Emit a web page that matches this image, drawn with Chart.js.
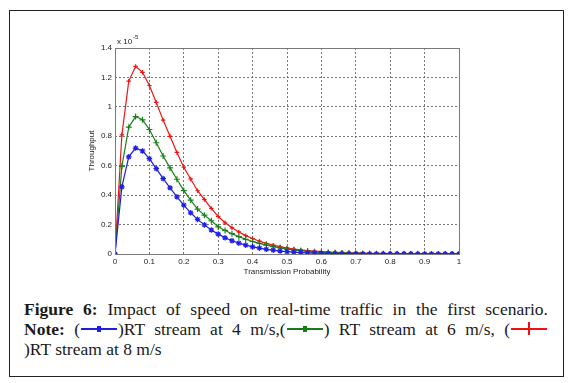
<!DOCTYPE html>
<html>
<head>
<meta charset="utf-8">
<script src="https://cdn.jsdelivr.net/npm/chart.js@4.4.1/dist/chart.umd.min.js"></script>
<style>
  html, body { margin: 0; padding: 0; background: #fff; }
  #wrap { position: relative; width: 573px; height: 383px; overflow: hidden; }
  #frame { position: absolute; left: 9px; top: 10px; width: 553px; height: 365px; border: 1.5px solid #222; }
  #chartBox { position: absolute; left: 0; top: 0; width: 573px; height: 290px; }
  #caption {
    position: absolute; left: 24px; top: 299px; width: 524px;
    font-family: "Liberation Serif", "DejaVu Serif", serif; font-size: 17.5px; line-height: 20px;
    color: #1a1a1a;
  }
  #caption .j { text-align: justify; text-align-last: justify; white-space: nowrap; }
  .sym { display: inline-block; position: relative; width: 38px; height: 10px; vertical-align: 1px; }
  .sym .ln { position: absolute; left: 1px; right: 1px; top: 4px; height: 2px; }
  .sym .mk { position: absolute; left: 17px; top: 2px; width: 4px; height: 6px; }
</style>
</head>
<body>
<div id="wrap">
  <div id="frame"></div>
  <div id="chartBox"><canvas id="chart"></canvas></div>
  <div id="caption">
    <div class="j"><b>Figure 6:</b> Impact of speed on real-time traffic in the first scenario.</div>
    <div class="j"><b>Note:</b> (<span class="sym"><span class="ln" style="background:#1f1fe0"></span><span class="mk" style="background:#1f1fe0"></span></span>)RT stream at 4 m/s,(<span class="sym"><span class="ln" style="background:#1a7a1a"></span><span class="mk" style="background:#1a7a1a"></span></span>) RT stream at 6 m/s, (<span class="sym"><span class="ln" style="background:#ee1111"></span><span class="mk" style="background:#ee1111;left:18px;top:-2px;width:2px;height:13px"></span></span></div>
    <div>)RT stream at 8 m/s</div>
  </div>
</div>
<script>
// transmission probability 0 : 0.02 : 1
const probs = [0, 0.02, 0.04, 0.06, 0.08, 0.1, 0.12, 0.14, 0.16, 0.18, 0.2,
  0.22, 0.24, 0.26, 0.28, 0.3, 0.32, 0.34, 0.36, 0.38, 0.4,
  0.42, 0.44, 0.46, 0.48, 0.5, 0.52, 0.54, 0.56, 0.58, 0.6,
  0.62, 0.64, 0.66, 0.68, 0.7, 0.72, 0.74, 0.76, 0.78, 0.8,
  0.82, 0.84, 0.86, 0.88, 0.9, 0.92, 0.94, 0.96, 0.98, 1]

// throughput (x 10^-5)
const rt4 = [0, 0.456, 0.66, 0.72, 0.70, 0.648, 0.58, 0.512, 0.45, 0.388, 0.332,
  0.28, 0.235, 0.198, 0.163, 0.135, 0.11, 0.09, 0.074, 0.06, 0.049,
  0.04, 0.032, 0.026, 0.02, 0.016, 0.013, 0.01, 0.008, 0.006, 0.005,
  0.004, 0.003, 0.003, 0.002, 0.002, 0.001, 0.001, 0.001, 0.001, 0.001,
  0, 0, 0, 0, 0, 0, 0, 0, 0, 0]
const rt6 = [0, 0.596, 0.862, 0.934, 0.912, 0.846, 0.756, 0.666, 0.585, 0.508, 0.431,
  0.366, 0.305, 0.264, 0.226, 0.185, 0.16, 0.138, 0.118, 0.1, 0.085,
  0.072, 0.06, 0.05, 0.041, 0.033, 0.027, 0.022, 0.018, 0.015, 0.012,
  0.01, 0.008, 0.007, 0.005, 0.004, 0.004, 0.003, 0.002, 0.002, 0.002,
  0.001, 0.001, 0.001, 0.001, 0.001, 0, 0, 0, 0, 0]
const rt8 = [0, 0.81, 1.175, 1.275, 1.235, 1.145, 1.03, 0.91, 0.80, 0.69, 0.59,
  0.51, 0.43, 0.37, 0.31, 0.255, 0.212, 0.178, 0.15, 0.125, 0.105,
  0.087, 0.072, 0.06, 0.05, 0.041, 0.034, 0.028, 0.023, 0.019, 0.016,
  0.013, 0.011, 0.009, 0.008, 0.007, 0.006, 0.005, 0.004, 0.004, 0.003,
  0.003, 0.003, 0.002, 0.002, 0.002, 0.002, 0.002, 0.002, 0.002, 0.002]

const xTicks = [0, 0.1, 0.2, 0.3, 0.4, 0.5, 0.6, 0.7, 0.8, 0.9, 1]
const yTicks = [0, 0.2, 0.4, 0.6, 0.8, 1, 1.2, 1.4]

const tickFont = { family: 'Liberation Sans, Arial, sans-serif', size: 8 }

// MATLAB-like box round the plot area plus the exponent label
const boxPlugin = {
  id: 'box',
  afterDraw(chart) {
    const { ctx, chartArea: a } = chart
    ctx.save()
    ctx.strokeStyle = '#7a7a7a'
    ctx.lineWidth = 1
    ctx.strokeRect(a.left + 0.5, a.top + 0.5, a.right - a.left, a.bottom - a.top)
    ctx.fillStyle = '#222'
    ctx.font = '8px Liberation Sans, Arial, sans-serif'
    ctx.textBaseline = 'alphabetic'
    ctx.fillText('x 10', a.left + 2, a.top - 4)
    ctx.font = '6px Liberation Sans, Arial, sans-serif'
    ctx.fillText('-5', a.left + 18, a.top - 9)
    ctx.restore()
  }
}

function series(values, color, style, radius) {
  return {
    data: probs.map((p, i) => ({ x: p, y: values[i] })),
    borderColor: color,
    backgroundColor: color,
    borderWidth: 1.2,
    pointStyle: style,
    pointRadius: radius,
    pointBorderWidth: 1.2,
    pointBorderColor: color,
    tension: 0
  }
}

new Chart(document.getElementById('chart'), {
  type: 'line',
  data: {
    datasets: [
      series(rt4, '#1f1fe6', 'star', 2.8),
      series(rt6, '#1a7f1a', 'cross', 3),
      series(rt8, '#f01414', 'cross', 2.2)
    ]
  },
  options: {
    responsive: true,
    maintainAspectRatio: false,
    animation: false,
    layout: { padding: { left: 87, right: 114, top: 48, bottom: 13 } },
    plugins: { legend: { display: false }, tooltip: { enabled: false } },
    scales: {
      x: {
        type: 'linear', min: 0, max: 1,
        afterBuildTicks: s => { s.ticks = xTicks.map(v => ({ value: v })) },
        afterFit: s => { s.height = 23 },
        grid: { color: '#555', lineWidth: 0.8, drawTicks: false },
        border: { display: false, dash: [2, 2] },
        ticks: { font: tickFont, color: '#222', padding: 3, maxRotation: 0, callback: v => String(+v.toFixed(1)) },
        title: { display: true, text: 'Transmission Probability', font: tickFont, color: '#222', padding: 0 }
      },
      y: {
        type: 'linear', min: 0, max: 1.4,
        afterBuildTicks: s => { s.ticks = yTicks.map(v => ({ value: v })) },
        afterFit: s => { s.width = 28 },
        grid: { color: '#555', lineWidth: 0.8, drawTicks: false },
        border: { display: false, dash: [2, 2] },
        ticks: { font: tickFont, color: '#222', padding: 3, callback: v => String(+v.toFixed(1)) },
        title: { display: true, text: 'Throughput', font: tickFont, color: '#222', padding: 0 }
      }
    }
  },
  plugins: [boxPlugin]
})
</script>
</body>
</html>
